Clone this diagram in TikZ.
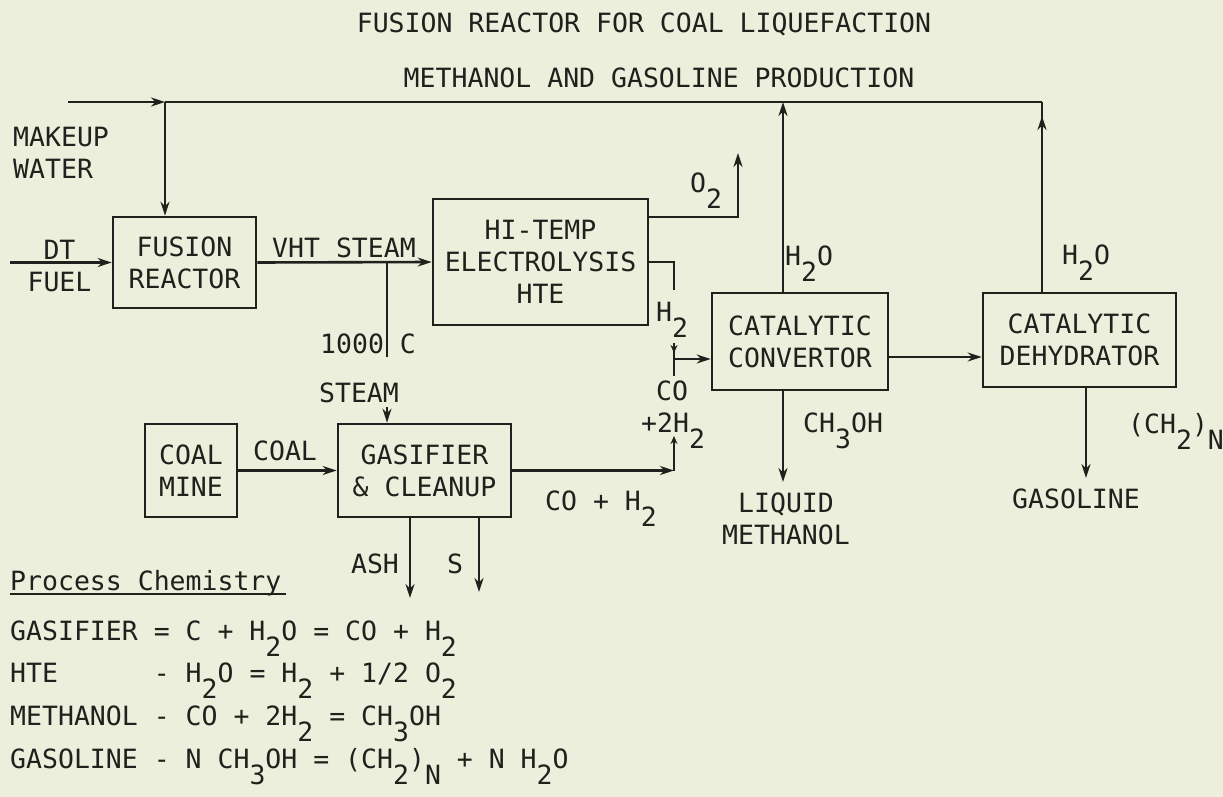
\documentclass[tikz,border=0pt]{standalone}
\usepackage{fontspec}
\newfontfamily\typew{DejaVu Sans Mono}
\usetikzlibrary{arrows.meta,calc}
\newcommand\sbs[1]{\raisebox{-0.62em}{#1}}
\definecolor{paper}{RGB}{237,239,221}
\definecolor{ink}{RGB}{32,32,28}
\begin{document}
\begin{tikzpicture}[x=1pt,y=-1pt,
  every node/.style={font=\typew\fontsize{26.5}{32}\selectfont, text=ink, inner sep=0pt},
  unit/.style={draw=ink, line width=2.7pt, align=center},
  pipe/.style={draw=ink, line width=2.6pt},
  flow/.style={pipe, -{Stealth[length=14pt,width=9pt]}},
  flowsmall/.style={pipe, -{Stealth[length=8pt,width=7pt]}},
]
\fill[paper] (0,0) rectangle (1223,797);
\useasboundingbox (0,0) rectangle (1223,797);

% title
\node[anchor=base] (t1) at (644,33) {FUSION REACTOR FOR COAL LIQUEFACTION};
\node[anchor=base] (t2) at (659,88) {METHANOL AND GASOLINE PRODUCTION};

% units
\node[unit, minimum width=143pt, minimum height=91pt] (fr) at (184.5,262.5) {FUSION\\REACTOR};
\node[unit, minimum width=215pt, minimum height=126pt] (hte) at (540.5,262) {HI-TEMP\\ELECTROLYSIS\\HTE};
\node[unit, minimum width=176pt, minimum height=97pt] (cc) at (800,341.5) {CATALYTIC\\CONVERTOR};
\node[unit, minimum width=193pt, minimum height=94pt] (cd) at (1079.5,340) {CATALYTIC\\DEHYDRATOR};
\node[unit, minimum width=92pt, minimum height=93pt] (cm) at (191,470.5) {COAL\\MINE};
\node[unit, minimum width=173pt, minimum height=93pt] (gc) at (424.5,470.5) {GASIFIER\\\& CLEANUP};

% coordinates
\coordinate (mw) at (68,102);
\coordinate (jct) at (165,102);
\coordinate (tr) at (1042,102);
\coordinate (top2) at (783,102);
\coordinate (dt) at (10,262.5);
\coordinate (sb) at (387,262.5);
\coordinate (s1) at (387,357);
\coordinate (s2) at (387,407);
\coordinate (o2c) at (738,217);
\coordinate (o2t) at (738,153);
\coordinate (h2c) at (674,262);
\coordinate (h2e) at (674,290);
\coordinate (mja) at (674,343);
\coordinate (mj) at (674,359);
\coordinate (mjb) at (674,376);
\coordinate (cj) at (674,470.5);
\coordinate (cjt) at (674,436);
\coordinate (lm) at (783,482);
\coordinate (ar) at (935,357);
\coordinate (gas) at (1086,478);
\coordinate (ash) at (410,598);
\coordinate (sul) at (479,592);

% connectors
\draw[flow] (mw) -- (jct);
\draw[pipe] (jct) -- (tr);
\draw[flow] (jct) -- (jct |- fr.north);
\draw[flow] (dt) -- (fr.west);
\draw[flow] (fr.east) -- (hte.west);
\draw[pipe] (sb) -- (s1);
\draw[flow] (s2) -- (s2 |- gc.north);
\draw[flow] (hte.east |- o2c) -- (o2c) -- (o2t);
\draw[pipe] (hte.east |- h2c) -- (h2c) -- (h2e);
\draw[pipe] (mja) -- (mjb);
\draw[flowsmall] (mja) -- ($(mja)+(0,10)$);
\draw[flow] (mj) -- (cc.west |- mj);
\draw[flow] (gc.east) -- (cj);
\draw[flowsmall] (cj) -- (cjt);
\draw[flow] (top2 |- cc.north) -- (top2);
\draw[flow] (lm |- cc.south) -- (lm);
\draw[flow] (cc.east |- ar) -- (cd.west |- ar);
\draw[pipe] (tr |- cd.north) -- (tr);
\draw[flow] (tr |- cd.north) -- ($(tr)+(0,14)$);
\draw[flow] (gas |- cd.south) -- (gas);
\draw[flow] (cm.east) -- (gc.west);
\draw[flow] (ash |- gc.south) -- (ash);
\draw[flow] (sul |- gc.south) -- (sul);

% labels
\node[anchor=north west, align=left] (mwl) at (13,127) {MAKEUP\\WATER};
\node[anchor=north, align=center] (dtl) at (59.5,240) {DT\\FUEL};
\node[anchor=base] (vhl) at (344,257) {VHT STEAM};
\node[anchor=base] (tcl) at (368,353) {1000 C};
\node[anchor=base] (stl) at (359,402) {STEAM};
\node[anchor=base west] (o2l) at (690,192) {O\sbs{2}};
\node[anchor=base west] (h2l) at (656,321) {H\sbs{2}};
\node[anchor=base west] (col) at (656,400) {CO};
\node[anchor=base west] (c2l) at (641,432) {+2H\sbs{2}};
\node[anchor=base west] (w1l) at (785,265) {H\sbs{2}O};
\node[anchor=base west] (w2l) at (1062,264) {H\sbs{2}O};
\node[anchor=base west] (mel) at (803,432) {CH\sbs{3}OH};
\node[anchor=north, align=center] (lml) at (786,493) {LIQUID\\METHANOL};
\node[anchor=base west] (chl) at (1128,433) {(CH\sbs{2})\sbs{N}};
\node[anchor=base] (gsl) at (1076,508) {GASOLINE};
\node[anchor=base] (cll) at (285,460) {COAL};
\node[anchor=base west] (cgl) at (545,510) {CO + H\sbs{2}};
\node[anchor=base] (asl) at (375,573) {ASH};
\node[anchor=base] (sl) at (455,573) {S};

% process chemistry
\node[anchor=base west] (pc) at (10,590) {Process Chemistry};
\draw[ink, line width=1.8pt] ($(pc.base west)+(0,4)$) -- ($(pc.base east)+(4,4)$);
\node[anchor=base west] (e1) at (10,640) {GASIFIER = C + H\sbs{2}O = CO + H\sbs{2}};
\node[anchor=base west] (e2) at (10,682) {HTE~~~~~~- H\sbs{2}O = H\sbs{2} + 1/2 O\sbs{2}};
\node[anchor=base west] (e3) at (10,725) {METHANOL - CO + 2H\sbs{2} = CH\sbs{3}OH};
\node[anchor=base west] (e4) at (10,768) {GASOLINE - N CH\sbs{3}OH = (CH\sbs{2})\sbs{N} + N H\sbs{2}O};
\end{tikzpicture}
\end{document}
